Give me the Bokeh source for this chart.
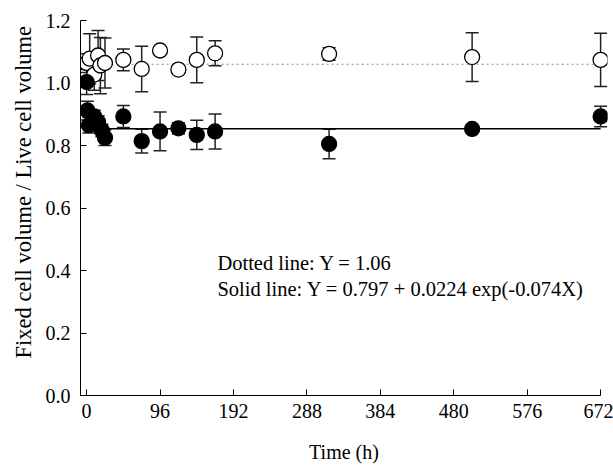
from bokeh.plotting import figure
from bokeh.models import ColumnDataSource, Whisker, Label, FixedTicker, CustomJSTickFormatter, Title
from bokeh.embed import file_html
from bokeh.resources import INLINE

# Open circles (dotted fit Y = 1.06)
open_t = [0, 4, 10, 15, 18, 24, 48, 72, 96, 120, 144, 168, 317, 504, 672]
open_v = [1.064, 1.078, 1.027, 1.088, 1.056, 1.064, 1.074, 1.045, 1.104, 1.043, 1.074, 1.095, 1.093, 1.083, 1.074]
open_e = [0.03, 0.08, 0.05, 0.08, 0.09, 0.08, 0.035, 0.073, 0.012, 0.0, 0.073, 0.04, 0.02, 0.078, 0.085]

# Filled circles (solid fit)
fill_t = [0, 1, 3, 10, 15, 20, 24, 48, 72, 96, 120, 144, 168, 317, 504, 672]
fill_v = [1.003, 0.912, 0.865, 0.893, 0.875, 0.848, 0.825, 0.893, 0.814, 0.845, 0.855, 0.834, 0.845, 0.805, 0.853, 0.893]
fill_e = [0.04, 0.03, 0.025, 0.02, 0.02, 0.02, 0.025, 0.035, 0.038, 0.062, 0.018, 0.047, 0.056, 0.047, 0.005, 0.033]

dotted_y = 1.06
solid_y = 0.854
fit_t = [0, 672]

x_ticks = [0, 96, 192, 288, 384, 480, 576, 672]
y_ticks = [0.0, 0.2, 0.4, 0.6, 0.8, 1.0, 1.2]

FONT = "Liberation Serif"

p = figure(frame_width=527, frame_height=375, x_range=(-8, 681), y_range=(0, 1.2),
           output_backend="svg", toolbar_location=None,
           min_border_left=80, min_border_right=6, min_border_top=20, min_border_bottom=70)
p.outline_line_color = None
p.xgrid.visible = False
p.ygrid.visible = False

# fit lines
p.line(fit_t, [dotted_y, dotted_y], line_color="#888888", line_dash="2 3", line_width=1.2)
p.line(fit_t, [solid_y, solid_y], line_color="black", line_width=1.5)

def add_series(t, v, e, fill):
    src = ColumnDataSource(dict(x=t, y=v, lo=[a - b for a, b in zip(v, e)], hi=[a + b for a, b in zip(v, e)]))
    w = Whisker(source=src, base="x", lower="lo", upper="hi", line_color="#222222", line_width=1.5)
    for h in (w.upper_head, w.lower_head):
        h.size = 13
        h.line_color = "#222222"
        h.line_width = 1.5
    p.add_layout(w)
    p.scatter("x", "y", source=src, size=15, fill_color=fill, line_color="black", line_width=1.3)

add_series(open_t, open_v, open_e, "white")
add_series(fill_t, fill_v, fill_e, "black")

p.xaxis.ticker = FixedTicker(ticks=x_ticks)
p.yaxis.ticker = FixedTicker(ticks=y_ticks)
p.yaxis.formatter = CustomJSTickFormatter(code="return tick.toFixed(1);")
p.xaxis.bounds = (-8, 672)

for ax in (p.xaxis[0], p.yaxis[0]):
    ax.major_tick_in = 6
    ax.major_tick_out = 0
    ax.minor_tick_line_color = None
    ax.axis_line_color = "black"
    ax.major_tick_line_color = "black"
    ax.major_label_text_font = FONT
    ax.major_label_text_font_size = "20px"
    ax.major_label_text_color = "black"
    ax.axis_label_text_font = FONT
    ax.axis_label_text_font_size = "20px"
    ax.axis_label_text_font_style = "normal"
    ax.axis_label_text_color = "black"

p.xaxis.axis_label = "Time (h)"
p.xaxis.major_label_standoff = 8
p.yaxis.major_label_standoff = 10
p.xaxis.axis_label_standoff = 20

# y-axis title as a left-side title, starting somewhat above the frame bottom
ytitle = Title(text="Fixed cell volume / Live cell volume", align="left", offset=37,
               text_font=FONT, text_font_size="22.5px", text_font_style="normal",
               text_color="black", standoff=13)
p.add_layout(ytitle, "left")

p.add_layout(Label(x=171, y=0.425, text="Dotted line: Y = 1.06", text_font=FONT,
                   text_font_size="20.5px", text_baseline="middle", text_color="black"))
p.add_layout(Label(x=171, y=0.342, text="Solid line: Y = 0.797 + 0.0224 exp(-0.074X)", text_font=FONT,
                   text_font_size="20.5px", text_baseline="middle", text_color="black"))

open("out.html", "w").write(file_html(p, INLINE))
